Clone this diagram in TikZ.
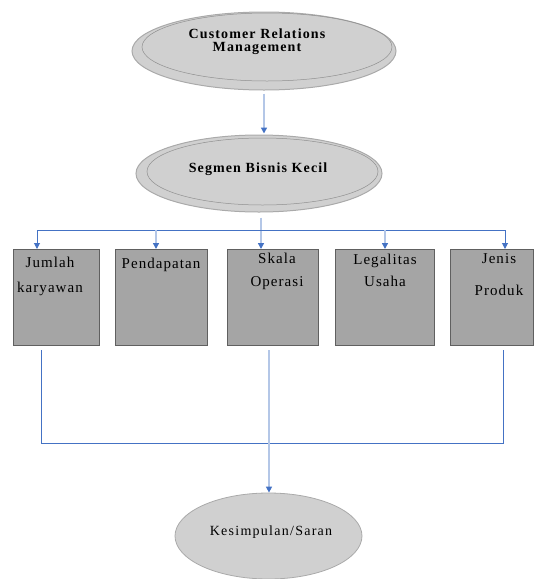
\documentclass[tikz,border=0pt]{standalone}
\usepackage{fontspec}
\setmainfont{Liberation Serif}
\usetikzlibrary{arrows.meta,shapes.geometric}
\definecolor{lineblue}{RGB}{68,114,196}
\definecolor{trunkblue}{RGB}{180,199,231}
\definecolor{ovalfill}{RGB}{208,208,208}
\definecolor{ovalline}{RGB}{170,170,170}
\definecolor{boxfill}{RGB}{165,165,165}
\definecolor{boxline}{RGB}{96,96,96}

\tikzset{
  oval/.style={ellipse, draw=ovalline, fill=ovalfill, line width=1pt, inner sep=0pt},
  innerring/.style={draw=ovalline!85!black, line width=0.5pt},
  factor/.style={rectangle, draw=boxline, fill=boxfill, line width=1.2pt,
    minimum width=#1, minimum height=96pt, anchor=north west, inner sep=0pt},
  ovaltext/.style={font=\fontsize{14}{13}\selectfont\bfseries\addfontfeatures{LetterSpace=8},
    align=center, inner sep=0pt},
  boxtext/.style={font=\fontsize{15}{17}\selectfont\addfontfeatures{LetterSpace=7},
    align=center, inner sep=0pt},
  link/.style={draw=lineblue, line width=1pt},
  trunk/.style={draw=trunkblue, line width=1.8pt},
  arrowtip/.style={-{Triangle[width=6pt,length=6pt,color=lineblue]}},
}

\begin{document}
\begin{tikzpicture}[x=1pt, y=-1pt]
  \useasboundingbox (0,0) rectangle (534,579);

  % Elips atas
  \node[oval, minimum width=264pt, minimum height=78pt] (crm) at (264,51) {};
  \draw[innerring] (267,47) ellipse [x radius=125, y radius=34];
  \node[ovaltext] (crmtext) at (257,42) {Customer Relations\\Management};

  \node[oval, minimum width=246pt, minimum height=77pt] (seg) at (259,173.5) {};
  \draw[innerring] (262.5,171.5) ellipse [x radius=115.5, y radius=33.5];
  \node[ovaltext] (segtext) at (258,169) {Segmen Bisnis Kecil};

  % Kotak faktor
  \node[factor=86pt] (b1) at (13,249) {};
  \node[factor=92pt] (b2) at (115,249) {};
  \node[factor=91pt] (b3) at (227,249) {};
  \node[factor=99pt] (b4) at (335,249) {};
  \node[factor=83pt] (b5) at (450,249) {};

  \node[boxtext] (t1) at (50,276.5) {Jumlah\\[8pt]karyawan};
  \node[boxtext] (t2) at (161,265) {Pendapatan};
  \node[boxtext] (t3) at (277,271.5) {Skala\\[6pt]Operasi};
  \node[boxtext] (t4) at (385,270) {Legalitas\\[5pt]Usaha};
  \node[boxtext] (t5) at (499,275) {Jenis\\[15pt]Produk};

  % Elips bawah
  \node[oval, line width=0.8pt, minimum width=187pt, minimum height=86pt] (kes) at (268.5,536) {};
  \node[boxtext, font=\fontsize{14}{17}\selectfont\addfontfeatures{LetterSpace=9}] (kestext) at (271,532) {Kesimpulan/Saran};

  % Penghubung atas
  \draw[trunk, arrowtip, shorten <=3pt, shorten >=1pt] (crm.south) -- (crm.south |- seg.north);

  \coordinate (d1) at (37,230);
  \coordinate (d2) at (156,230);
  \coordinate (d3) at (261,230);
  \coordinate (d4) at (385,230);
  \coordinate (d5) at (505,230);
  \draw[trunk, arrowtip, shorten <=5pt] (seg.south -| d3) -- (d3 |- b3.north);
  \draw[link] (d1) -- (d5);
  \foreach \i in {1,5}
    \draw[link, arrowtip] (d\i) -- (d\i |- b\i.north);
  \foreach \i in {2,4}
    \draw[trunk, line width=1.4pt, arrowtip] (d\i) -- (d\i |- b\i.north);

  % Penghubung bawah
  \coordinate (u1) at (41,350);
  \coordinate (uc) at (269,350);
  \coordinate (u5) at (503,350);
  \draw[link] (u1) -- ++(0,93) -| (u5);
  \draw[trunk, arrowtip] (uc) -- (uc |- kes.north);
\end{tikzpicture}
\end{document}
